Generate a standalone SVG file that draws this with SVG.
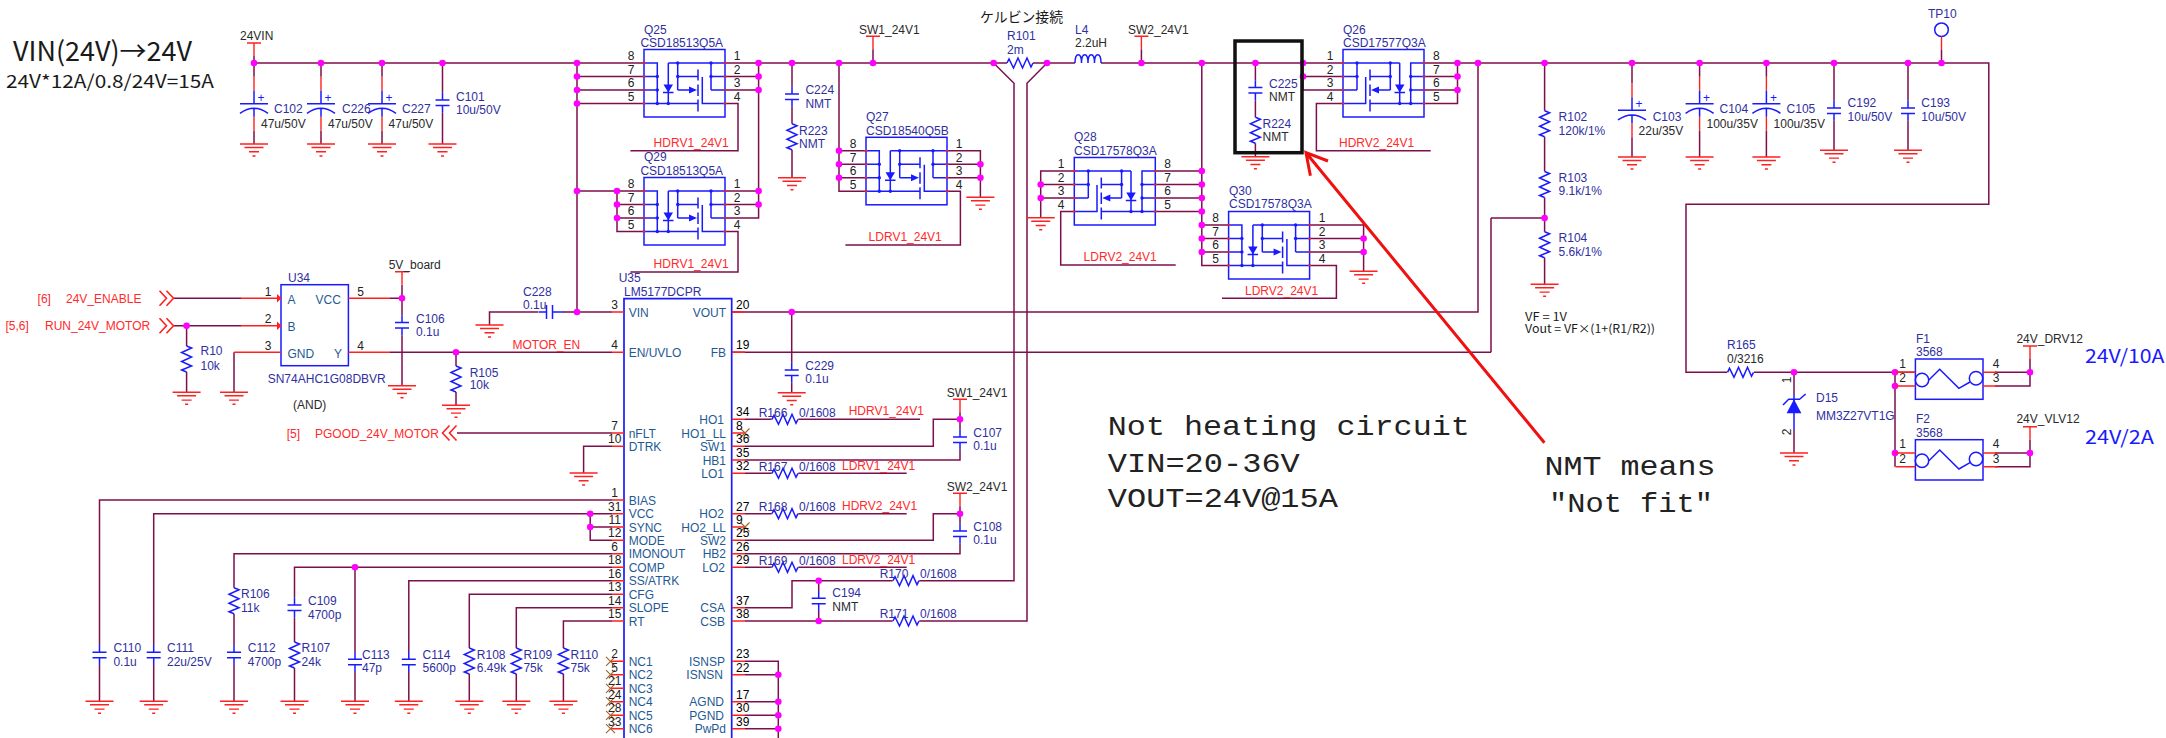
<svg xmlns="http://www.w3.org/2000/svg" xmlns:xlink="http://www.w3.org/1999/xlink" width="2166" height="738" viewBox="0 0 2166 738">
<style>
text{font-family:"Liberation Sans",Arial,sans-serif;font-size:12px}
.n{fill:#2f2f9f}.b{fill:#2a2a2a}.r{fill:#ff2a2a}.p{fill:#1f5a94}
.c{text-anchor:middle;fill:#222}.e{text-anchor:end;fill:#1f5a94}
.w{fill:none;stroke:#7d0f4d;stroke-width:1.5}
.s{fill:none;stroke:#1a1aff;stroke-width:1.5}
.sf{fill:#1a1aff;stroke:none}
.m{fill:none;stroke:#ff2020;stroke-width:1.4}
.j{fill:#ff00ff}
.x{fill:none;stroke:#a0622a;stroke-width:1.1}
.g{font-family:"Noto Sans CJK JP","Liberation Sans",sans-serif;fill:#1a1a1a}
.mono{font-family:"Liberation Mono","Courier New",monospace;font-size:28.5px;fill:#222}
.big{font-family:"Noto Sans CJK JP","Liberation Sans",sans-serif;font-size:19px;fill:#1a1aff}
</style>
<defs>
<g id="gnd"><path class="m" d="M-14 0H14M-9.5 3.5H9.5M-5 7.8H5M-1.5 12H1.5"/></g>
<g id="cap"><path class="s" d="M-7-2.7H7M-7 2.7H7M0-10V-2.7M0 2.7V10"/></g>
<g id="caph"><path class="s" d="M-3-7V7M3-7V7M-11 0H-3M3 0H14"/></g>
<g id="pcap"><path class="m" d="M0-27V-13M0 13V27"/><path class="s" d="M0-13V0M-14 0H14M-14 9.6Q0-.4 14 9.6M0 4.6V13"/><text x="7" y="-2" class="n" text-anchor="middle" style="fill:#1a1aff">+</text></g>
<g id="rv"><path class="s" d="M0-13L5-11-5-6.5 5-2-5 2.5 5 7-5 11 0 13"/></g>
<g id="rh"><path class="s" d="M-13 0L-11-4-6.5 5-2-5 2.5 5 7-5 11 4 13 0"/></g>
<g id="pwr"><path class="m" d="M-7 0H7M0 0V13"/></g>
<g id="mos">
<rect class="s" width="81" height="67.5"/>
<path class="s" d="M0 13.5H13.3V54M0 27H13.3M0 40.5H13.3M0 54H54M24.3 13.5V54M24.3 13.5H81M33.7 13.5V40.5M33.7 27H54M33.7 40.5H46M67 13.5V40.5M67 27H81M67 40.5H81M58.3 27.5V54H81M54 20V31M54 35V46.5M54 50V62M19 43H29.5"/>
<path class="sf" d="M19.5 35H29L24.3 43ZM45 37V44L53 40.5Z"/>
<g class="sf"><circle cx="13.3" cy="27" r="1.7"/><circle cx="13.3" cy="40.5" r="1.7"/><circle cx="13.3" cy="54" r="1.7"/><circle cx="24.3" cy="54" r="1.7"/><circle cx="33.7" cy="13.5" r="1.7"/><circle cx="33.7" cy="27" r="1.7"/><circle cx="67" cy="13.5" r="1.7"/><circle cx="67" cy="27" r="1.7"/></g>
<path class="m" d="M-1.5 13.5H1.5M-1.5 27H1.5M-1.5 40.5H1.5M-1.5 54H1.5M79.5 13.5H82.5M79.5 27H82.5M79.5 40.5H82.5M79.5 54H82.5"/>
</g>
<g id="fuse">
<rect class="s" width="67.6" height="40.3"/>
<circle class="s" cx="6.6" cy="21" r="6.7"/><circle class="s" cx="60.6" cy="19.3" r="6.7"/>
<path class="s" d="M13.5 21L24.3 10.3 43.5 29.3 54.6 23"/>
<path class="m" d="M-20 13.3H0M-20 27H0M67.6 13.3H82M67.6 27H82"/>
</g>
<path id="chevr" class="m" style="stroke-width:1.6" d="M0-7.5L7 0 0 7.5M7-7.5L14 0 7 7.5"/>
<path id="chevl" class="m" style="stroke-width:1.6" d="M7-7.5L0 0 7 7.5M14-7.5L7 0 14 7.5"/>
</defs>
<rect width="2166" height="738" fill="#ffffff"/>

<g id="connectors">
<path class="w" d="M254 63H644M725 63H1007M1033 63H1075M1101 63H1343M1424 63H1988.8V204.3H1686V372.3H1727M1754 372.3H1915"/>
<path class="w" d="M254 56V76.7M254 130.7V144M321 63V76.7M321 130.7V144M382 63V76.7M382 130.7V144M442.5 63V92.8M442.5 112.8V144"/>
<path class="w" d="M1632 63V83.3M1632 137.3V157M1699.6 63V76.7M1699.6 130.7V157M1766.4 63V76.7M1766.4 130.7V157M1834 63V100.7M1834 120.7V150.3M1908 63V100.7M1908 120.7V150.3M1941.5 50V63"/>
<path class="w" d="M1544.6 63V110.7M1544.6 136.7V171.5M1544.6 197.5V231.8M1544.6 257.8V284.3M1491 218H1544.6M1491 218V352.3M732 352.3H1491M732 312H1478V63"/>
<path class="w" d="M993.6 63L1014 83.3V580.7H919.3M1047 63L1027 83.3V621H919.3M792 63V86.7M792 106.7V123.7M792 149.7V177.7"/>
<path class="w" d="M725 103.5H738V150.7H630.4M725 231.5H738V272H630.4M577 63V312M577 76.5H644M577 90H644M577 103.5H644M577 191H644M617 191V231.5H644M617 204.5H644M617 218H644M725 76.5H758.6M725 90H758.6M758.6 63V218H725M725 191H758.6M725 204.5H758.6"/>
<path class="w" d="M873 49.3V63M839 63V191.3H866M839 150.8H866M839 164.3H866M839 177.8H866M947 150.8H980.4V197.3M947 164.3H980.4M947 177.8H980.4M947 191.3H960.4V245H845.4"/>
<path class="w" d="M1074.3 171H1040.7V217.7M1074.3 184.5H1040.7M1074.3 198H1040.7M1074.3 211.5H1060.7V265H1175.7M1155.3 171H1201.8M1155.3 184.5H1201.8M1155.3 198H1201.8M1155.3 211.5H1201.8M1201.8 63V265.5H1228.6M1201.8 225H1228.6M1201.8 238.5H1228.6M1201.8 252H1228.6"/>
<path class="w" d="M1309.6 225H1363.6V271.3M1309.6 238.5H1363.6M1309.6 252H1363.6M1309.6 265.5H1336.4V298.3H1222M1255.4 63V80.2M1255.4 100.2V117.3M1255.4 143.3V156.7M1141.4 49.3V63M1303 63V90H1343M1303 76.5H1343M1343 103.5H1316.4V150.7H1430.7M1424 76.5H1457.5M1424 90H1457.5M1424 103.5H1457.5V63"/>
<path class="w" d="M174 298.3H241M174 325.7H241M186.6 325.7V346M186.6 372V392.3M234 352.3V392.3M390 298.3H402M402 285V315.3M402 335.3V385.7M390 352.3H612M456 352.3V366M456 392V405.3M612 312H563M538 312H489.5V325M457 433H612M612 446.3H583.6V473"/>
<path class="w" d="M612 500H99.5V645M99.5 665V701.3M612 513.7H153.7V645M153.7 665V701.3M590.2 513.7V540.3H612M590.2 527H612M612 553.7H234V587.7M234 613.7V645M234 665V701.3M612 567.3H294.5V597.7M294.5 617.7V642M294.5 668V701.3M355 567.3V652M355 672V701.3M612 580.7H408.8V652M408.8 672V701.3M612 594.3H469.3V648M469.3 674V701.3M612 607.7H516.3V648M516.3 674V701.3M612 621H563.4V648M563.4 674V701.3"/>
<path class="w" d="M745 419.3H771.7M798.3 419.3H920M745 446.3H933.3V419.3H960M960 412.3V429.7M960 449.7V460H745M745 473.3H771.7M798.3 473.3H906.7M745 513.7H771.7M798.3 513.7H906.7M745 540.3H933.3V513.7H960M960 506.3V523.7M960 543.7V553.7H745M745 567.3H771.7M798.3 567.3H906.7M745 607.7H792V580.7H892.7M818.7 580.7V591M818.7 611V621M745 621H892.7M745 661.3H778.3V738M745 674.7H778.3M745 701.7H778.3M745 715.3H778.3M745 728.7H778.3M791.7 312V362.7M791.7 382.7V392.7"/>
<path class="w" d="M1794 372.3V394M1794 430V453M1895 372.3V466.7M1995 372.3H2030V386H1995M2030 359V372.3M1995 453H2030V466.7H1995M2030 439.7V453"/>
<g class="j">
<circle cx="254" cy="63" r="3.3"/><circle cx="321" cy="63" r="3.3"/><circle cx="382" cy="63" r="3.3"/><circle cx="442.5" cy="63" r="3.3"/>
<circle cx="577" cy="63" r="3.3"/><circle cx="577" cy="76.5" r="3.3"/><circle cx="577" cy="90" r="3.3"/><circle cx="577" cy="103.5" r="3.3"/><circle cx="577" cy="191" r="3.3"/><circle cx="577" cy="312" r="3.3"/>
<circle cx="617" cy="191" r="3.3"/><circle cx="617" cy="204.5" r="3.3"/><circle cx="617" cy="218" r="3.3"/>
<circle cx="758.6" cy="63" r="3.3"/><circle cx="758.6" cy="76.5" r="3.3"/><circle cx="758.6" cy="90" r="3.3"/><circle cx="758.6" cy="191" r="3.3"/><circle cx="758.6" cy="204.5" r="3.3"/>
<circle cx="792" cy="63" r="3.3"/><circle cx="839" cy="63" r="3.3"/><circle cx="873" cy="63" r="3.3"/><circle cx="993.6" cy="63" r="3.3"/><circle cx="1047" cy="63" r="3.3"/>
<circle cx="839" cy="150.8" r="3.3"/><circle cx="839" cy="164.3" r="3.3"/><circle cx="839" cy="177.8" r="3.3"/><circle cx="980.4" cy="164.3" r="3.3"/><circle cx="980.4" cy="177.8" r="3.3"/>
<circle cx="1040.7" cy="184.5" r="3.3"/><circle cx="1040.7" cy="198" r="3.3"/>
<circle cx="1141.4" cy="63" r="3.3"/><circle cx="1201.8" cy="63" r="3.3"/><circle cx="1201.8" cy="171" r="3.3"/><circle cx="1201.8" cy="184.5" r="3.3"/><circle cx="1201.8" cy="198" r="3.3"/><circle cx="1201.8" cy="211.5" r="3.3"/><circle cx="1201.8" cy="225" r="3.3"/><circle cx="1201.8" cy="238.5" r="3.3"/><circle cx="1201.8" cy="252" r="3.3"/>
<circle cx="1363.6" cy="238.5" r="3.3"/><circle cx="1363.6" cy="252" r="3.3"/>
<circle cx="1255.4" cy="63" r="3.3"/><circle cx="1303" cy="63" r="3.3"/><circle cx="1303" cy="76.5" r="3.3"/>
<circle cx="1457.5" cy="63" r="3.3"/><circle cx="1457.5" cy="76.5" r="3.3"/><circle cx="1457.5" cy="90" r="3.3"/><circle cx="1478" cy="63" r="3.3"/>
<circle cx="1544.6" cy="63" r="3.3"/><circle cx="1544.6" cy="218" r="3.3"/><circle cx="1632" cy="63" r="3.3"/><circle cx="1699.6" cy="63" r="3.3"/><circle cx="1766.4" cy="63" r="3.3"/><circle cx="1834" cy="63" r="3.3"/><circle cx="1908" cy="63" r="3.3"/><circle cx="1941.5" cy="63" r="3.3"/>
<circle cx="186.6" cy="325.7" r="3.3"/><circle cx="402" cy="298.3" r="3.3"/><circle cx="456" cy="352.3" r="3.3"/>
<circle cx="590.2" cy="513.7" r="3.3"/><circle cx="590.2" cy="527" r="3.3"/><circle cx="355" cy="567.3" r="3.3"/>
<circle cx="791.7" cy="312" r="3.3"/><circle cx="960" cy="419.3" r="3.3"/><circle cx="960" cy="513.7" r="3.3"/><circle cx="818.7" cy="580.7" r="3.3"/><circle cx="818.7" cy="621" r="3.3"/>
<circle cx="778.3" cy="674.7" r="3.3"/><circle cx="778.3" cy="701.7" r="3.3"/><circle cx="778.3" cy="715.3" r="3.3"/><circle cx="778.3" cy="728.7" r="3.3"/>
<circle cx="1794" cy="372.3" r="3.3"/><circle cx="1895" cy="372.3" r="3.3"/><circle cx="1895" cy="386" r="3.3"/><circle cx="1895" cy="453" r="3.3"/><circle cx="2030" cy="372.3" r="3.3"/><circle cx="2030" cy="453" r="3.3"/>
</g>
</g>

<g id="title">
<text class="g" x="13" y="61" style="font-size:27px" textLength="179" lengthAdjust="spacingAndGlyphs">VIN(24V)→24V</text>
<text class="g" x="6" y="88.3" style="font-size:18px" textLength="208" lengthAdjust="spacingAndGlyphs">24V*12A/0.8/24V=15A</text>
</g>

<g id="vin24"><use href="#pwr" x="254" y="43"/><text class="b" x="240" y="40">24VIN</text></g>
<g id="C102"><use href="#pcap" x="254" y="103.7"/><use href="#gnd" x="254" y="144"/><text class="n" x="274" y="113.3">C102</text><text class="b" x="261" y="127.7">47u/50V</text></g>
<g id="C226"><use href="#pcap" x="321" y="103.7"/><use href="#gnd" x="321" y="144"/><text class="n" x="342" y="113.3">C226</text><text class="b" x="328" y="127.7">47u/50V</text></g>
<g id="C227"><use href="#pcap" x="382" y="103.7"/><use href="#gnd" x="382" y="144"/><text class="n" x="402" y="113.3">C227</text><text class="b" x="388.6" y="127.7">47u/50V</text></g>
<g id="C101"><use href="#cap" x="442.5" y="102.8"/><use href="#gnd" x="442.5" y="144"/><text class="n" x="456" y="101">C101</text><text class="n" x="456" y="114">10u/50V</text></g>

<g id="Q25"><use href="#mos" x="644" y="49.5"/><text class="n" x="644" y="33.7">Q25</text><text class="n" x="640.4" y="47">CSD18513Q5A</text>
<text class="c" x="631" y="60">8</text><text class="c" x="631" y="74">7</text><text class="c" x="631" y="87.3">6</text><text class="c" x="631" y="101">5</text><text class="c" x="737" y="60">1</text><text class="c" x="737" y="74">2</text><text class="c" x="737" y="87.3">3</text><text class="c" x="737" y="101">4</text>
<text class="r" x="653.6" y="146.7">HDRV1_24V1</text></g>
<g id="Q29"><use href="#mos" x="644" y="177.5"/><text class="n" x="644" y="160.7">Q29</text><text class="n" x="640.4" y="174.7">CSD18513Q5A</text>
<text class="c" x="631" y="188">8</text><text class="c" x="631" y="202">7</text><text class="c" x="631" y="215.3">6</text><text class="c" x="631" y="229">5</text><text class="c" x="737" y="188">1</text><text class="c" x="737" y="202">2</text><text class="c" x="737" y="215.3">3</text><text class="c" x="737" y="229">4</text>
<text class="r" x="653.6" y="267.7">HDRV1_24V1</text></g>
<g id="Q27"><use href="#mos" x="866" y="137.3"/><text class="n" x="866" y="120.7">Q27</text><text class="n" x="866" y="135">CSD18540Q5B</text>
<text class="c" x="853" y="148">8</text><text class="c" x="853" y="161.5">7</text><text class="c" x="853" y="175">6</text><text class="c" x="853" y="188.5">5</text><text class="c" x="959" y="148">1</text><text class="c" x="959" y="161.5">2</text><text class="c" x="959" y="175">3</text><text class="c" x="959" y="188.5">4</text>
<text class="r" x="868.6" y="241">LDRV1_24V1</text><use href="#gnd" x="980.4" y="197.3"/></g>
<g id="Q28"><use href="#mos" transform="translate(1155.3 157.5) scale(-1 1)"/><text class="n" x="1074" y="141">Q28</text><text class="n" x="1074" y="154.7">CSD17578Q3A</text>
<text class="c" x="1061" y="168">1</text><text class="c" x="1061" y="181.5">2</text><text class="c" x="1061" y="195">3</text><text class="c" x="1061" y="208.5">4</text><text class="c" x="1167.5" y="168">8</text><text class="c" x="1167.5" y="181.5">7</text><text class="c" x="1167.5" y="195">6</text><text class="c" x="1167.5" y="208.5">5</text>
<text class="r" x="1083.6" y="261">LDRV2_24V1</text><use href="#gnd" x="1040.7" y="217.7"/></g>
<g id="Q30"><use href="#mos" x="1228.6" y="211.5"/><text class="n" x="1229" y="195">Q30</text><text class="n" x="1229" y="208.3">CSD17578Q3A</text>
<text class="c" x="1215.7" y="222">8</text><text class="c" x="1215.7" y="235.5">7</text><text class="c" x="1215.7" y="249">6</text><text class="c" x="1215.7" y="262.5">5</text><text class="c" x="1322" y="222">1</text><text class="c" x="1322" y="235.5">2</text><text class="c" x="1322" y="249">3</text><text class="c" x="1322" y="262.5">4</text>
<text class="r" x="1245" y="294.7">LDRV2_24V1</text><use href="#gnd" x="1363.6" y="271.3"/></g>
<g id="Q26"><use href="#mos" transform="translate(1424 49.5) scale(-1 1)"/><text class="n" x="1343" y="33.7">Q26</text><text class="n" x="1343" y="47">CSD17577Q3A</text>
<text class="c" x="1330" y="60">1</text><text class="c" x="1330" y="74">2</text><text class="c" x="1330" y="87.3">3</text><text class="c" x="1330" y="101">4</text><text class="c" x="1436.4" y="60">8</text><text class="c" x="1436.4" y="74">7</text><text class="c" x="1436.4" y="87.3">6</text><text class="c" x="1436.4" y="101">5</text>
<text class="r" x="1339" y="146.7">HDRV2_24V1</text></g>

<g id="SW1"><use href="#pwr" x="873" y="36.3"/><text class="b" x="859" y="34.3">SW1_24V1</text></g>
<g id="SW2"><use href="#pwr" x="1141.4" y="36.3"/><text class="b" x="1128" y="34.3">SW2_24V1</text></g>
<g id="kelvin"><text class="g" x="980" y="22" style="font-size:14px" textLength="83" lengthAdjust="spacingAndGlyphs">ケルビン接続</text></g>
<g id="R101"><use href="#rh" x="1020" y="63"/><text class="n" x="1007" y="40">R101</text><text class="n" x="1007" y="54">2m</text></g>
<g id="L4"><path class="s" d="M1075 63C1075 52 1081.5 52 1081.5 63C1081.5 52 1088 52 1088 63C1088 52 1094.5 52 1094.5 63C1094.5 52 1101 52 1101 63"/><text class="n" x="1075" y="34">L4</text><text class="b" x="1075" y="46.7">2.2uH</text></g>
<g id="C224"><use href="#cap" x="792" y="96.7"/><text class="n" x="805.4" y="93.7">C224</text><text class="n" x="805.4" y="107.7">NMT</text></g>
<g id="R223"><use href="#rv" x="792" y="136.7"/><use href="#gnd" x="792" y="177.7"/><text class="n" x="799" y="134.7">R223</text><text class="n" x="799" y="147.7">NMT</text></g>
<g id="C225"><use href="#cap" x="1255.4" y="90.2"/><text class="n" x="1269" y="87.7">C225</text><text class="b" x="1269" y="101">NMT</text></g>
<g id="R224"><use href="#rv" x="1255.4" y="130.3"/><use href="#gnd" x="1255.4" y="156.7"/><text class="n" x="1262.5" y="127.7">R224</text><text class="b" x="1262.5" y="140.7">NMT</text></g>
<rect id="nmt-box" x="1235" y="41" width="67" height="111.7" fill="none" stroke="#111" stroke-width="3.5"/>
<path id="nmt-arrow" d="M1544.4 442.7L1306 152.7M1328 161L1306 152.7 1310.4 175.7" fill="none" stroke="#f01010" stroke-width="3"/>

<g id="R102"><use href="#rv" x="1544.6" y="123.7"/><text class="n" x="1558.6" y="120.7">R102</text><text class="n" x="1558.6" y="134.7">120k/1%</text></g>
<g id="R103"><use href="#rv" x="1544.6" y="184.5"/><text class="n" x="1558.6" y="181.7">R103</text><text class="n" x="1558.6" y="194.7">9.1k/1%</text></g>
<g id="R104"><use href="#rv" x="1544.6" y="244.8"/><use href="#gnd" x="1544.6" y="284.3"/><text class="n" x="1558.6" y="241.7">R104</text><text class="n" x="1558.6" y="255.7">5.6k/1%</text></g>
<g id="vf-note"><text class="g" x="1525" y="320.7" style="font-size:11.5px" textLength="42" lengthAdjust="spacingAndGlyphs">VF = 1V</text><text class="g" x="1525" y="333.3" style="font-size:11.5px" textLength="130" lengthAdjust="spacingAndGlyphs">Vout = VF×(1+(R1/R2))</text></g>

<g id="C103"><use href="#pcap" x="1632" y="110.3"/><use href="#gnd" x="1632" y="157"/><text class="n" x="1652.7" y="120.7">C103</text><text class="b" x="1638.6" y="134.7">22u/35V</text></g>
<g id="C104"><use href="#pcap" x="1699.6" y="103.7"/><use href="#gnd" x="1699.6" y="157"/><text class="n" x="1719.5" y="113.3">C104</text><text class="b" x="1706.5" y="127.7">100u/35V</text></g>
<g id="C105"><use href="#pcap" x="1766.4" y="103.7"/><use href="#gnd" x="1766.4" y="157"/><text class="n" x="1786.6" y="113.3">C105</text><text class="b" x="1773.6" y="127.7">100u/35V</text></g>
<g id="C192"><use href="#cap" x="1834" y="110.7"/><use href="#gnd" x="1834" y="150.3"/><text class="n" x="1847.6" y="107.3">C192</text><text class="n" x="1847.6" y="120.7">10u/50V</text></g>
<g id="C193"><use href="#cap" x="1908" y="110.7"/><use href="#gnd" x="1908" y="150.3"/><text class="n" x="1921.3" y="107.3">C193</text><text class="n" x="1921.3" y="120.7">10u/50V</text></g>
<g id="TP10"><circle class="s" cx="1941.5" cy="29.7" r="6.8"/><path class="m" d="M1941.5 36.5V50"/><text class="n" x="1928" y="17.7">TP10</text></g>

<g id="U34"><rect class="s" x="281" y="284.7" width="67.4" height="81"/>
<path class="m" d="M241 298.3H281M241 325.7H281M234 352.3H281M348.4 298.3H390M348.4 352.3H390"/>
<path d="M277 294V302.6L281.5 298.3ZM277 321.4V330L281.5 325.7Z" fill="#ff2020"/>
<text class="c" x="268" y="296">1</text><text class="c" x="268" y="323.3">2</text><text class="c" x="268" y="350">3</text><text class="c" x="360.6" y="296">5</text><text class="c" x="360.6" y="350">4</text>
<text class="p" x="287.5" y="304">A</text><text class="p" x="315.5" y="304">VCC</text><text class="p" x="287.5" y="331">B</text><text class="p" x="287.5" y="357.7">GND</text><text class="p" x="334" y="357.7">Y</text>
<text class="n" x="288" y="282">U34</text><text class="n" x="267.7" y="382.7">SN74AHC1G08DBVR</text><text class="b" x="293" y="409.3">(AND)</text></g>
<g id="port-enable"><use href="#chevr" x="159.5" y="298.3"/><text class="r" x="37.6" y="302.7">[6]</text><text class="r" x="66" y="302.7">24V_ENABLE</text></g>
<g id="port-run"><use href="#chevr" x="159.5" y="325.7"/><text class="r" x="5.5" y="330">[5,6]</text><text class="r" x="45" y="330">RUN_24V_MOTOR</text></g>
<g id="R10"><use href="#rv" x="186.6" y="359"/><use href="#gnd" x="186.6" y="392.3"/><text class="n" x="200.5" y="355.3">R10</text><text class="n" x="200.5" y="370">10k</text></g>
<use id="gnd-u34" href="#gnd" x="234" y="392.3"/>
<g id="board5v"><use href="#pwr" x="402" y="271.7"/><text class="b" x="388.7" y="269">5V_board</text></g>
<g id="C106"><use href="#cap" x="402" y="325.3"/><use href="#gnd" x="402" y="385.7"/><text class="n" x="416" y="322.7">C106</text><text class="n" x="416" y="336">0.1u</text></g>
<g id="R105"><use href="#rv" x="456" y="379"/><use href="#gnd" x="456" y="405.3"/><text class="n" x="469.7" y="376.7">R105</text><text class="n" x="469.7" y="389.3">10k</text></g>
<g id="C228"><use href="#caph" x="549.5" y="312"/><use href="#gnd" x="489.5" y="325"/><text class="n" x="523" y="296">C228</text><text class="n" x="523" y="309.3">0.1u</text></g>
<text id="motor-en" class="r" x="512.5" y="349">MOTOR_EN</text>
<g id="port-pgood"><use href="#chevl" x="442.5" y="433"/><text class="r" x="286.7" y="438.3">[5]</text><text class="r" x="315" y="438.3">PGOOD_24V_MOTOR</text></g>
<use id="gnd-dtrk" href="#gnd" x="583.6" y="473"/>

<g id="U35"><path class="s" style="stroke-width:1.7" d="M624 745V298.7H731.7V745"/>
<path class="m" d="M612 312H624M612 352.3H624M612 433H624M612 446.3H624M612 500H624M612 513.7H624M612 527H624M612 540.3H624M612 553.7H624M612 567.3H624M612 580.7H624M612 594.3H624M612 607.7H624M612 621H624M611 661.3H624M611 674.7H624M611 688.3H624M611 701.7H624M611 715.3H624M611 728.7H624M732 312H745M732 352.3H745M732 419.3H745M732 433H745M732 446.3H745M732 460H745M732 473.3H745M732 513.7H745M732 527H745M732 540.3H745M732 553.7H745M732 567.3H745M732 607.7H745M732 621H745M732 661.3H745M732 674.7H745M732 701.7H745M732 715.3H745M732 728.7H745"/>
<path class="x" d="M606 656.8l9 9m0-9l-9 9M606 670.2l9 9m0-9l-9 9M606 683.8l9 9m0-9l-9 9M606 697.2l9 9m0-9l-9 9M606 710.8l9 9m0-9l-9 9M606 724.2l9 9m0-9l-9 9M740.5 428.5l9 9m0-9l-9 9M740.5 522.5l9 9m0-9l-9 9"/>
<text class="n" x="618.7" y="282">U35</text><text class="n" x="624" y="296">LM5177DCPR</text>
<g class="c"><text class="c" x="614.7" y="309">3</text><text class="c" x="614.7" y="349.3">4</text><text class="c" x="614.7" y="430">7</text><text class="c" x="614.7" y="443.3">10</text><text class="c" x="614.7" y="497">1</text><text class="c" x="614.7" y="510.7">31</text><text class="c" x="614.7" y="524">11</text><text class="c" x="614.7" y="537.3">12</text><text class="c" x="614.7" y="550.7">6</text><text class="c" x="614.7" y="564.3">18</text><text class="c" x="614.7" y="577.7">16</text><text class="c" x="614.7" y="591.3">13</text><text class="c" x="614.7" y="604.7">14</text><text class="c" x="614.7" y="618">15</text><text class="c" x="614.7" y="658.3">2</text><text class="c" x="614.7" y="671.7">5</text><text class="c" x="614.7" y="685.3">21</text><text class="c" x="614.7" y="698.7">24</text><text class="c" x="614.7" y="712.3">28</text><text class="c" x="614.7" y="725.7">33</text></g>
<text class="p" x="628.7" y="316.5">VIN</text><text class="p" x="628.7" y="356.8">EN/UVLO</text><text class="p" x="628.7" y="437.5">nFLT</text><text class="p" x="628.7" y="450.8">DTRK</text><text class="p" x="628.7" y="504.5">BIAS</text><text class="p" x="628.7" y="518.2">VCC</text><text class="p" x="628.7" y="531.5">SYNC</text><text class="p" x="628.7" y="544.8">MODE</text><text class="p" x="628.7" y="558.2">IMONOUT</text><text class="p" x="628.7" y="571.8">COMP</text><text class="p" x="628.7" y="585.2">SS/ATRK</text><text class="p" x="628.7" y="598.8">CFG</text><text class="p" x="628.7" y="612.2">SLOPE</text><text class="p" x="628.7" y="625.5">RT</text><text class="p" x="628.7" y="665.8">NC1</text><text class="p" x="628.7" y="679.2">NC2</text><text class="p" x="628.7" y="692.8">NC3</text><text class="p" x="628.7" y="706.2">NC4</text><text class="p" x="628.7" y="719.8">NC5</text><text class="p" x="628.7" y="733.2">NC6</text>
<text x="736" y="309">20</text><text x="736" y="349.3">19</text><text x="736" y="416.3">34</text><text x="736" y="430">8</text><text x="736" y="443.3">36</text><text x="736" y="457">35</text><text x="736" y="470.3">32</text><text x="736" y="510.7">27</text><text x="736" y="524">9</text><text x="736" y="537.3">25</text><text x="736" y="550.7">26</text><text x="736" y="564.3">29</text><text x="736" y="604.7">37</text><text x="736" y="618">38</text><text x="736" y="658.3">23</text><text x="736" y="671.7">22</text><text x="736" y="698.7">17</text><text x="736" y="712.3">30</text><text x="736" y="725.7">39</text>
<text class="e" x="726" y="316.5">VOUT</text><text class="e" x="726" y="356.8">FB</text><text class="e" x="724" y="423.8">HO1</text><text class="e" x="726" y="437.5">HO1_LL</text><text class="e" x="726" y="450.8">SW1</text><text class="e" x="726" y="464.5">HB1</text><text class="e" x="724" y="477.8">LO1</text><text class="e" x="724" y="518.2">HO2</text><text class="e" x="726" y="531.5">HO2_LL</text><text class="e" x="726" y="544.8">SW2</text><text class="e" x="726" y="558.2">HB2</text><text class="e" x="725" y="571.8">LO2</text><text class="e" x="725" y="612.2">CSA</text><text class="e" x="725" y="625.5">CSB</text><text class="e" x="725" y="665.8">ISNSP</text><text class="e" x="723" y="679.2">ISNSN</text><text class="e" x="724" y="706.2">AGND</text><text class="e" x="724" y="719.8">PGND</text><text class="e" x="726" y="733.2">PwPd</text>
</g>

<g id="C229"><use href="#cap" x="791.7" y="372.7"/><use href="#gnd" x="791.7" y="392.7"/><text class="n" x="805.3" y="370">C229</text><text class="n" x="805.3" y="382.7">0.1u</text></g>
<g id="R166"><use href="#rh" x="785" y="419.3"/><text class="n" x="758.7" y="416.7">R166</text><text class="n" x="799" y="416.7">0/1608</text><text class="r" x="848.7" y="415">HDRV1_24V1</text></g>
<g id="R167"><use href="#rh" x="785" y="473.3"/><text class="n" x="758.7" y="470.7">R167</text><text class="n" x="799" y="470.7">0/1608</text><text class="r" x="842" y="470">LDRV1_24V1</text></g>
<g id="R168"><use href="#rh" x="785" y="513.7"/><text class="n" x="758.7" y="510.7">R168</text><text class="n" x="799" y="510.7">0/1608</text><text class="r" x="842" y="510">HDRV2_24V1</text></g>
<g id="R169"><use href="#rh" x="785" y="567.3"/><text class="n" x="758.7" y="564.7">R169</text><text class="n" x="799" y="564.7">0/1608</text><text class="r" x="842" y="564">LDRV2_24V1</text></g>
<g id="R170"><use href="#rh" x="906" y="580.7"/><text class="n" x="879.7" y="577.7">R170</text><text class="n" x="920" y="577.7">0/1608</text></g>
<g id="R171"><use href="#rh" x="906" y="621"/><text class="n" x="879.7" y="618.3">R171</text><text class="n" x="920" y="618.3">0/1608</text></g>
<g id="C194"><use href="#cap" x="818.7" y="601"/><text class="n" x="832.3" y="597.3">C194</text><text class="b" x="832.3" y="611">NMT</text></g>
<g id="C107"><use href="#pwr" x="960" y="399.3"/><use href="#cap" x="960" y="439.7"/><text class="b" x="946.7" y="396.7">SW1_24V1</text><text class="n" x="973.3" y="436.7">C107</text><text class="n" x="973.3" y="450">0.1u</text></g>
<g id="C108"><use href="#pwr" x="960" y="493.3"/><use href="#cap" x="960" y="533.7"/><text class="b" x="946.7" y="490.7">SW2_24V1</text><text class="n" x="973.3" y="530.7">C108</text><text class="n" x="973.3" y="544.3">0.1u</text></g>

<g id="C110"><use href="#cap" x="99.5" y="655"/><use href="#gnd" x="99.5" y="701.3"/><text class="n" x="113.4" y="651.7">C110</text><text class="n" x="113.4" y="666">0.1u</text></g>
<g id="C111"><use href="#cap" x="153.7" y="655"/><use href="#gnd" x="153.7" y="701.3"/><text class="n" x="167" y="651.7">C111</text><text class="n" x="167" y="666">22u/25V</text></g>
<g id="R106"><use href="#rv" x="234" y="600.7"/><text class="n" x="241" y="597.7">R106</text><text class="n" x="241" y="612">11k</text></g>
<g id="C112"><use href="#cap" x="234" y="655"/><use href="#gnd" x="234" y="701.3"/><text class="n" x="247.8" y="651.7">C112</text><text class="n" x="247.8" y="666">4700p</text></g>
<g id="C109"><use href="#cap" x="294.5" y="607.7"/><text class="n" x="308" y="605">C109</text><text class="n" x="308" y="619.3">4700p</text></g>
<g id="R107"><use href="#rv" x="294.5" y="655"/><use href="#gnd" x="294.5" y="701.3"/><text class="n" x="301.6" y="651.7">R107</text><text class="n" x="301.6" y="666">24k</text></g>
<g id="C113"><use href="#cap" x="355" y="662"/><use href="#gnd" x="355" y="701.3"/><text class="n" x="362" y="658.7">C113</text><text class="n" x="362" y="672">47p</text></g>
<g id="C114"><use href="#cap" x="408.8" y="662"/><use href="#gnd" x="408.8" y="701.3"/><text class="n" x="422.6" y="658.7">C114</text><text class="n" x="422.6" y="672">5600p</text></g>
<g id="R108"><use href="#rv" x="469.3" y="661"/><use href="#gnd" x="469.3" y="701.3"/><text class="n" x="476.8" y="658.7">R108</text><text class="n" x="476.8" y="672">6.49k</text></g>
<g id="R109"><use href="#rv" x="516.3" y="661"/><use href="#gnd" x="516.3" y="701.3"/><text class="n" x="523.4" y="658.7">R109</text><text class="n" x="523.4" y="672">75k</text></g>
<g id="R110"><use href="#rv" x="563.4" y="661"/><use href="#gnd" x="563.4" y="701.3"/><text class="n" x="570.5" y="658.7">R110</text><text class="n" x="570.5" y="672">75k</text></g>

<g id="note-heating"><text class="mono" x="1107.8" y="435" textLength="362" lengthAdjust="spacingAndGlyphs">Not heating circuit</text><text class="mono" x="1107.8" y="471.7" textLength="192" lengthAdjust="spacingAndGlyphs">VIN=20-36V</text><text class="mono" x="1107.8" y="507.3" textLength="230" lengthAdjust="spacingAndGlyphs">VOUT=24V@15A</text></g>
<g id="note-nmt"><text class="mono" x="1544.4" y="475" textLength="171" lengthAdjust="spacingAndGlyphs">NMT means</text><text class="mono" x="1549" y="511.7" textLength="164" lengthAdjust="spacingAndGlyphs">"Not fit"</text></g>

<g id="R165"><use href="#rh" x="1740.5" y="372.3"/><text class="n" x="1727" y="349.3">R165</text><text class="b" x="1727" y="362.7">0/3216</text></g>
<g id="D15"><path class="s" d="M1783 405L1788.7 399.3H1799.5L1805.7 394M1794 394V430"/><path class="sf" d="M1794 399.3L1801.4 413.3H1786.6Z"/><use href="#gnd" x="1794" y="453"/>
<text class="b" transform="translate(1790.5 380) rotate(-90)" text-anchor="middle">1</text><text class="b" transform="translate(1790.5 432) rotate(-90)" text-anchor="middle">2</text>
<text class="n" x="1816" y="402.3">D15</text><text class="n" x="1816" y="419.7">MM3Z27VT1G</text></g>
<g id="F1"><use href="#fuse" x="1915.4" y="359"/><text class="n" x="1916" y="342.7">F1</text><text class="n" x="1916" y="356">3568</text><text class="c" x="1902.6" y="368.3">1</text><text class="c" x="1902.6" y="381.7">2</text><text class="c" x="1996" y="368.3">4</text><text class="c" x="1996" y="381.7">3</text></g>
<g id="F2"><use href="#fuse" x="1915.4" y="439.7"/><text class="n" x="1916" y="423.3">F2</text><text class="n" x="1916" y="436.7">3568</text><text class="c" x="1902.6" y="448">1</text><text class="c" x="1902.6" y="463.3">2</text><text class="c" x="1996" y="448">4</text><text class="c" x="1996" y="463.3">3</text></g>
<g id="drv12"><use href="#pwr" x="2030" y="346"/><text class="b" x="2016.4" y="342.7">24V_DRV12</text><text class="big" x="2085" y="363.3" textLength="79.5" lengthAdjust="spacingAndGlyphs">24V/10A</text></g>
<g id="vlv12"><use href="#pwr" x="2030" y="426.7"/><text class="b" x="2016.4" y="423.3">24V_VLV12</text><text class="big" x="2085" y="444.3" textLength="69" lengthAdjust="spacingAndGlyphs">24V/2A</text></g>
</svg>
